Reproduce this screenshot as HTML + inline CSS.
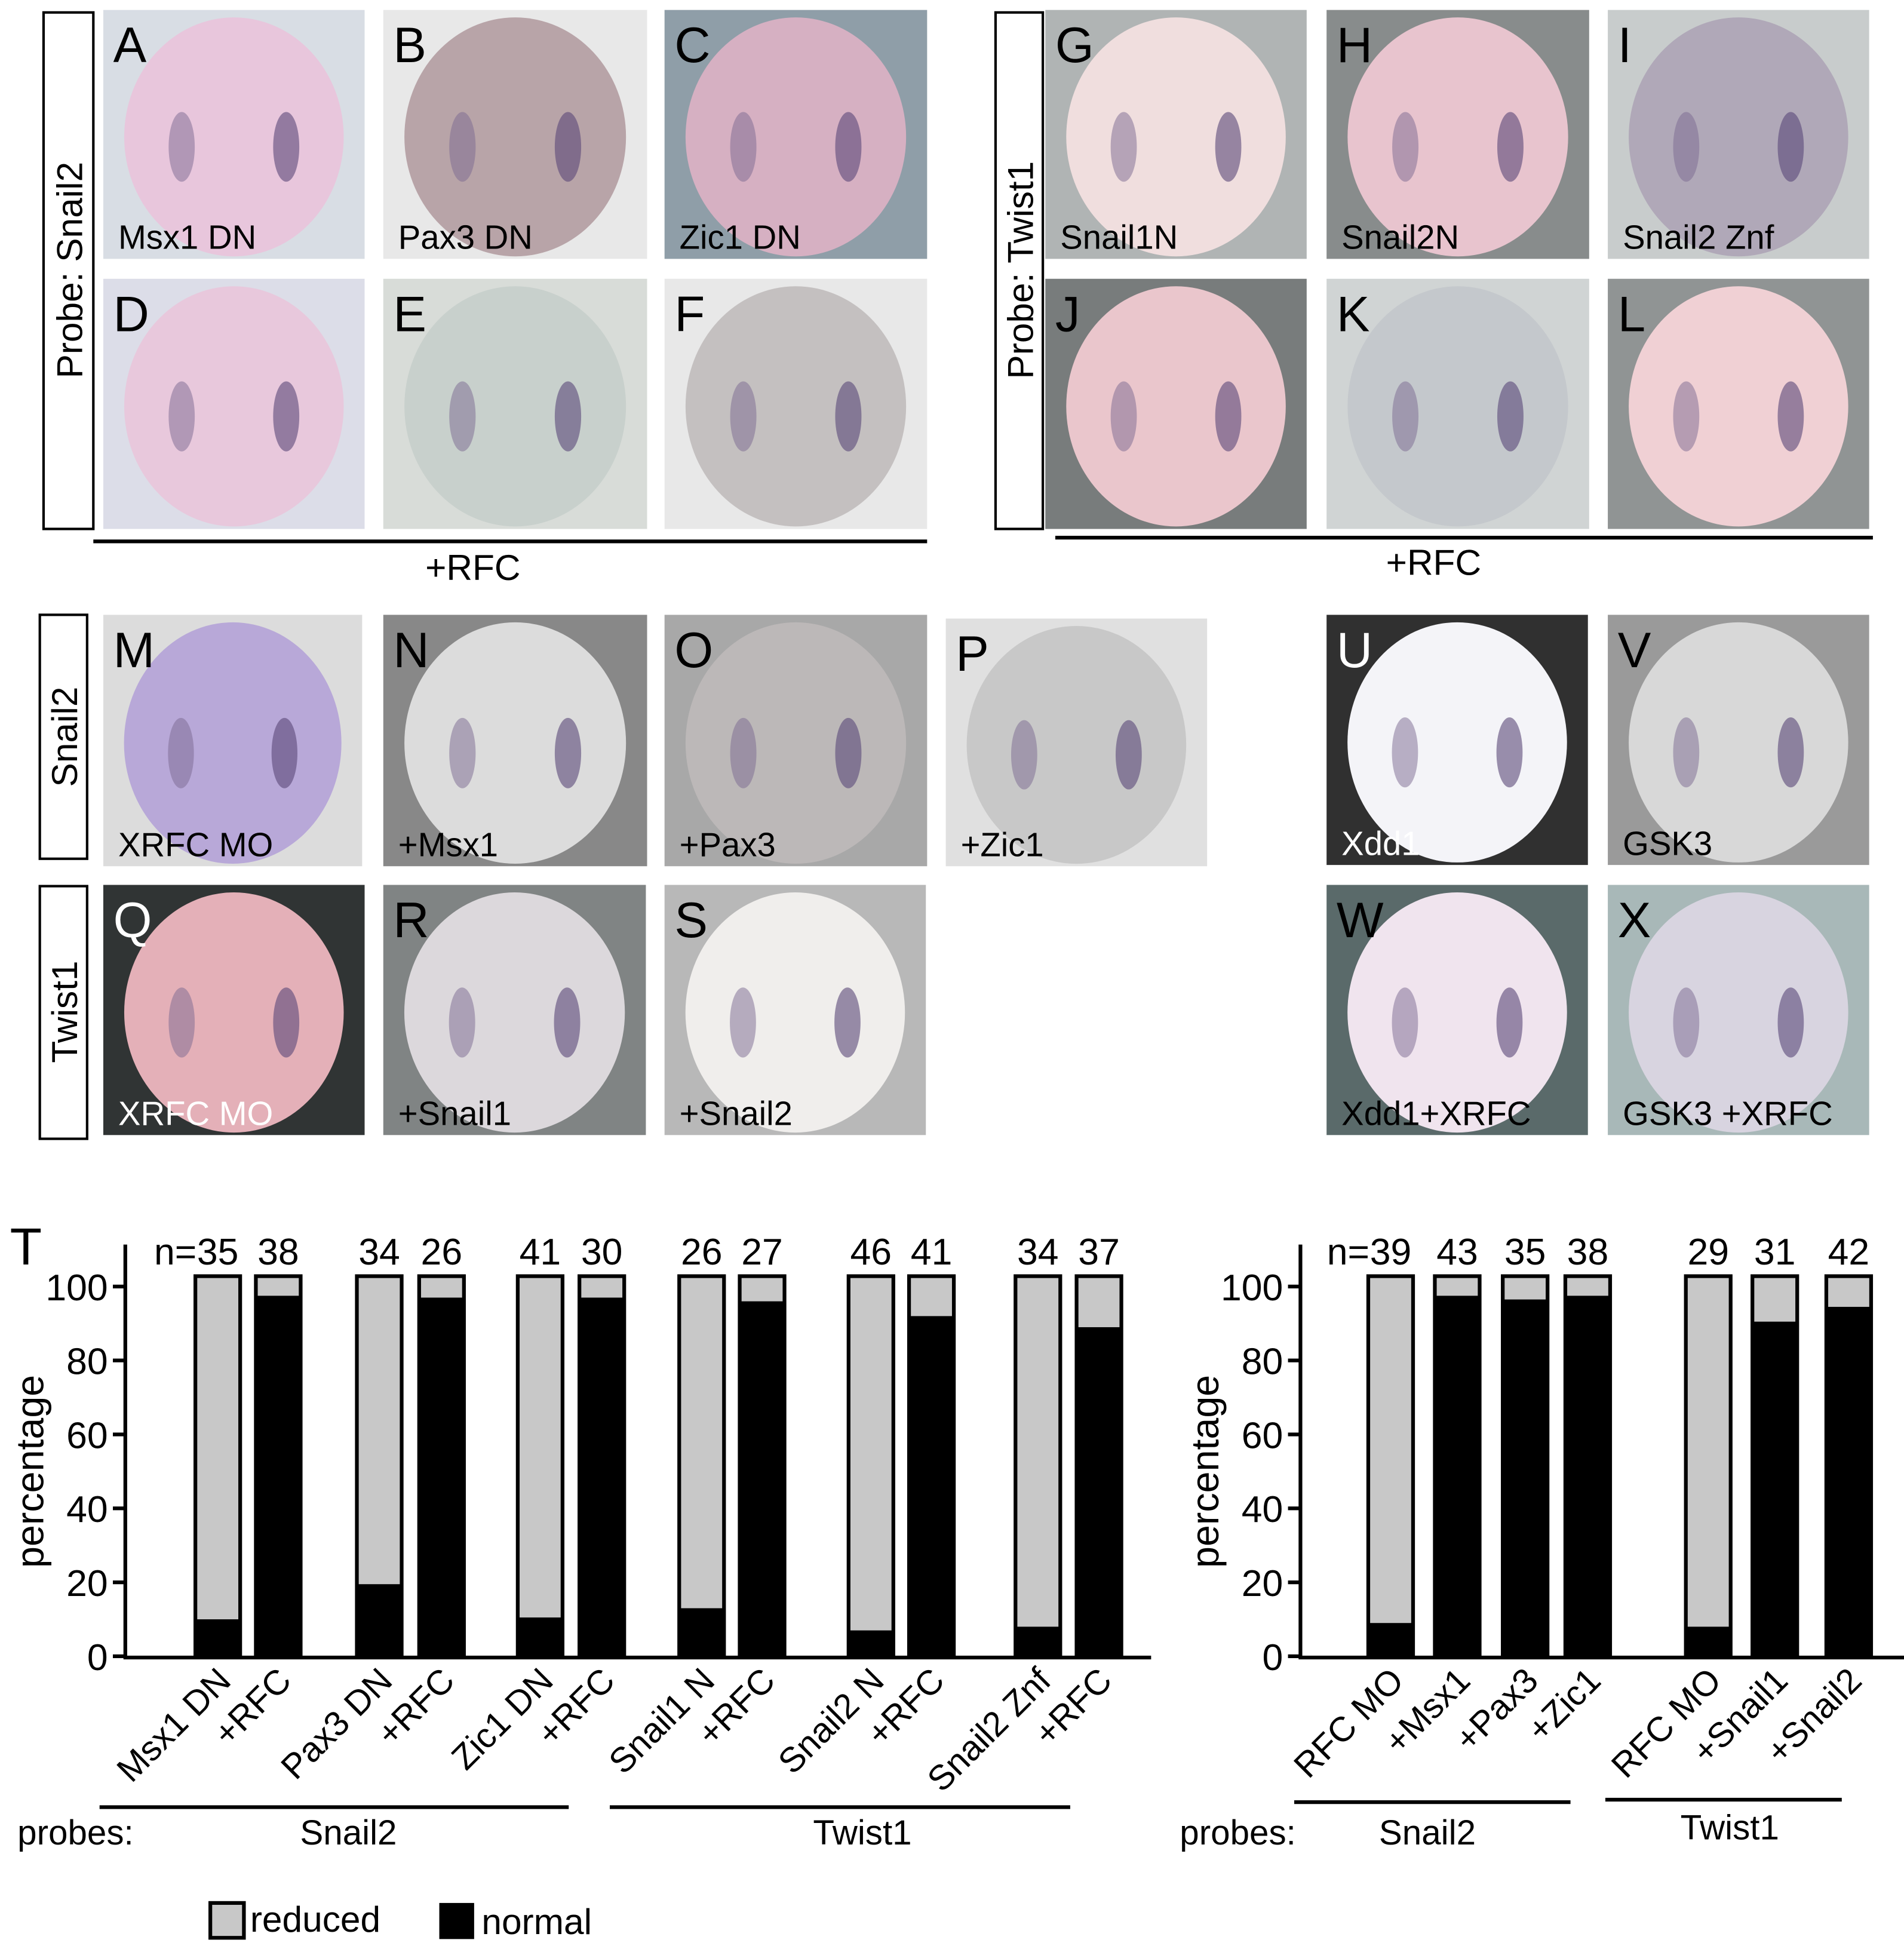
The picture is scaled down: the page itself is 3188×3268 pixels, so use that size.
<!DOCTYPE html>
<html><head><meta charset="utf-8"><style>
html,body{margin:0;padding:0;background:#fff;}
svg{display:block;font-family:"Liberation Sans",Arial,sans-serif;}
</style></head><body>
<svg id="fig" width="3188" height="3268" viewBox="0 0 1530 1568.4" xmlns="http://www.w3.org/2000/svg">
<g id="photos"></g>
<g id="frames">
  <rect x="35" y="10" width="40" height="415" fill="#fff" stroke="#000" stroke-width="2"/>
  <text transform="translate(66,217) rotate(-90)" text-anchor="middle" font-size="29">Probe: Snail2</text>
  <rect x="800" y="10" width="38" height="415" fill="#fff" stroke="#000" stroke-width="2"/>
  <text transform="translate(830,217) rotate(-90)" text-anchor="middle" font-size="29">Probe: Twist1</text>
  <rect x="32" y="494" width="38" height="196" fill="#fff" stroke="#000" stroke-width="2"/>
  <text transform="translate(62,592) rotate(-90)" text-anchor="middle" font-size="29">Snail2</text>
  <rect x="32" y="712" width="38" height="203" fill="#fff" stroke="#000" stroke-width="2"/>
  <text transform="translate(62,813) rotate(-90)" text-anchor="middle" font-size="29">Twist1</text>
  <line x1="75" y1="435" x2="745" y2="435" stroke="#000" stroke-width="3"/>
  <text x="380" y="466" text-anchor="middle" font-size="29">+RFC</text>
  <line x1="848" y1="432" x2="1505" y2="432" stroke="#000" stroke-width="3"/>
  <text x="1152" y="462" text-anchor="middle" font-size="29">+RFC</text>
</g>
<g id="chart"></g>
</svg>
<script>
const NS="http://www.w3.org/2000/svg";
const panels=[
["A",83,8,210,200,"#d8dde4","#e8c6dc","Msx1 DN","#000"],
["B",308,8,212,200,"#e8e8e8","#b8a4a8","Pax3 DN","#000"],
["C",534,8,211,200,"#8f9ea8","#d6b0c2","Zic1 DN","#000"],
["D",83,224,210,201,"#dcdde8","#e8c8dc","","#000"],
["E",308,224,212,201,"#d8dcd8","#c8d0cc","","#000"],
["F",534,224,211,201,"#e8e8e8","#c4c0c0","","#000"],
["G",840,8,210,200,"#b0b4b4","#f0dede","Snail1N","#000"],
["H",1066,8,211,200,"#888c8c","#e8c4ce","Snail2N","#000"],
["I",1292,8,210,200,"#c8cccc","#b0a8b8","Snail2 Znf","#000"],
["J",840,224,210,201,"#787c7c","#eac6cc","","#000"],
["K",1066,224,211,201,"#d0d4d4","#c4c8cc","","#000"],
["L",1292,224,210,201,"#909494","#f0d0d4","","#000"],
["M",83,494,208,202,"#dcdcdc","#b8a8d8","XRFC MO","#000"],
["N",308,494,212,202,"#888888","#dcdcdc","+Msx1","#000"],
["O",534,494,211,202,"#a8a8a8","#bcb8b8","+Pax3","#000"],
["P",760,497,210,199,"#e0e0e0","#c8c8c8","+Zic1","#000"],
["Q",83,711,210,201,"#303434","#e4b0b8","XRFC MO","#fff"],
["R",308,711,211,201,"#808484","#dcd8dc","+Snail1","#000"],
["S",534,711,210,201,"#b8b8b8","#f0eeec","+Snail2","#000"],
["U",1066,494,210,201,"#303030","#f4f4f8","Xdd1","#fff"],
["V",1292,494,210,201,"#9a9a9a","#d8d8d8","GSK3","#000"],
["W",1066,711,210,201,"#5a6a6a","#f0e4ee","Xdd1+XRFC","#000"],
["X",1292,711,210,201,"#a8b8b8","#d8d4e0","GSK3  +XRFC","#000"]
];
const pg=document.getElementById("photos");
function mk(tag,attrs,parent){const e=document.createElementNS(NS,tag);for(const k in attrs)e.setAttribute(k,attrs[k]);parent.appendChild(e);return e;}
panels.forEach(p=>{
  const [L,x,y,w,h,bg,em,cap,cc]=p;
  const g=mk("g",{},pg);
  
  
  mk("rect",{x:x,y:y,width:w,height:h,fill:bg},g);
  mk("ellipse",{cx:x+w/2,cy:y+h/2+2,rx:w*0.42,ry:h*0.48,fill:em},g);
  mk("ellipse",{cx:x+w*0.3,cy:y+h*0.55,rx:w*0.05,ry:h*0.14,fill:"#7a6890","opacity":0.5},g);
  mk("ellipse",{cx:x+w*0.7,cy:y+h*0.55,rx:w*0.05,ry:h*0.14,fill:"#5a4878","opacity":0.6},g);
  const t=mk("text",{x:x+8,y:y+42,"font-size":40,fill:cc},g);t.textContent=L;
  
  
  if(cap){const c=mk("text",{x:x+12,y:y+h-8,"font-size":27,fill:cc},g);c.textContent=cap;
  
  }
});

const leftCategories=["Msx1 DN","+RFC","Pax3 DN","+RFC","Zic1 DN","+RFC","Snail1 N","+RFC","Snail2 N","+RFC","Snail2 Znf","+RFC"];
const leftNormal=[10,97.5,19.5,97,10.5,97,13,96,7,92,8,89];
const leftN=["35","38","34","26","41","30","26","27","46","41","34","37"];
const rightCategories=["RFC MO","+Msx1","+Pax3","+Zic1","RFC MO","+Snail1","+Snail2"];
const rightNormal=[9,97.5,96.5,97.5,8,90.5,94.5];
const rightN=["39","43","35","38","29","31","42"];
const yTicks=[0,20,40,60,80,100];

const cg=document.getElementById("chart");
const y0=1330.8, yPer=2.971;
function yScale(v){return y0-v*yPer;}
function drawChart(axisX,axisEnd,slotX0,slotW,groupIdx,cats,normal,ns,bw,name){
  const g=mk("g",{},cg);
  
  
  mk("line",{x1:axisX,y1:yScale(0)+1,x2:axisX,y2:1000,stroke:"#000","stroke-width":3},g);
  mk("line",{x1:axisX-1.5,y1:yScale(0)+1,x2:axisEnd,y2:yScale(0)+1,stroke:"#000","stroke-width":3},g);
  yTicks.forEach(v=>{
    mk("line",{x1:axisX-10,y1:yScale(v),x2:axisX,y2:yScale(v),stroke:"#000","stroke-width":3},g);
    const t=mk("text",{x:axisX-14,y:yScale(v)+11,"text-anchor":"end","font-size":30},g);t.textContent=v;
    
    
  });
  const yl=mk("text",{transform:`translate(${axisX-66},${yScale(50)}) rotate(-90)`,"text-anchor":"middle","font-size":31},g);
  yl.textContent="percentage";
  
  
  cats.forEach((c,i)=>{
    const cx=slotX0+groupIdx[i]*slotW;
    const top=yScale(102.8), base=yScale(0);
    const r=mk("rect",{x:cx-bw/2,y:top,width:bw,height:base-top,fill:"#c8c8c8",stroke:"#000","stroke-width":3},g);
    
    
    const b=mk("rect",{x:cx-bw/2,y:yScale(normal[i]),width:bw,height:base-yScale(normal[i]),fill:"#000"},g);
    
    
    const n=mk("text",{x:cx,y:1016,"text-anchor":"middle","font-size":30},g);n.textContent=ns[i];
    
    
    if(i===0){const e=mk("text",{x:cx-17,y:1016,"text-anchor":"end","font-size":30},g);e.textContent="n=";
      
      }
    const xl=mk("text",{transform:`translate(${cx+12},${1352}) rotate(-45)`,"text-anchor":"end","font-size":28},g);
    xl.textContent=c;
    
    
  });
}
drawChart(100.7,925,175,48.6,[0,1,2.67,3.7,5.33,6.35,8,9,10.8,11.8,13.56,14.57],leftCategories,leftNormal,leftN,36,"left-chart");
drawChart(1045,1530,1117.5,53.5,[0,1,2.02,2.96,4.77,5.77,6.88],rightCategories,rightNormal,rightN,36,"right-chart");

function txt(x,y,s,fs,anchor,name){const t=mk("text",{x:x,y:y,"font-size":fs,"text-anchor":anchor||"start"},cg);t.textContent=s;
  
  return t;}
function ln(x1,y1,x2,y2,name){const l=mk("line",{x1:x1,y1:y1,x2:x2,y2:y2,stroke:"#000","stroke-width":3},cg);
  
  }
txt(8,1016,"T",42,"start","panel-letter-t");
ln(80,1452,457,1452,"probe-group-line");
ln(490,1452,860,1452,"probe-group-line");
ln(1040,1448,1262,1448,"probe-group-line");
ln(1290,1446,1480,1446,"probe-group-line");
txt(14,1482,"probes:",28,"start","probes-label");
txt(280,1482,"Snail2",28,"middle","group-label-snail2");
txt(693,1482,"Twist1",28,"middle","group-label-twist1");
txt(948,1482,"probes:",28,"start","probes-label");
txt(1147,1482,"Snail2",28,"middle","group-label-snail2");
txt(1390,1478,"Twist1",28,"middle","group-label-twist1");
const lr=mk("rect",{x:169,y:1529,width:27,height:28,fill:"#c8c8c8",stroke:"#000","stroke-width":3},cg);


txt(201,1552,"reduced",29,"start","legend-reduced-label");
const ln2=mk("rect",{x:353,y:1529,width:28,height:29,fill:"#000"},cg);


txt(387,1554,"normal",29,"start","legend-normal-label");
</script>
</body></html>
